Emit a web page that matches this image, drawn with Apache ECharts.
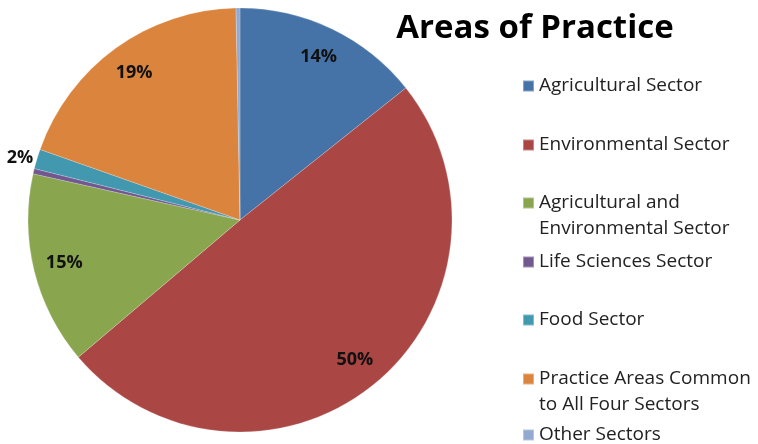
<!DOCTYPE html>
<html>
<head>
<meta charset="utf-8">
<script src="https://cdn.jsdelivr.net/npm/echarts@6/dist/echarts.min.js"></script>
<style>
html,body{margin:0;padding:0;background:#fff;}
#c{width:758px;height:444px;}
</style>
</head>
<body>
<div id="c"></div>
<script>
var categories = [
  'Agricultural Sector',
  'Environmental Sector',
  'Agricultural and\nEnvironmental Sector',
  'Life Sciences Sector',
  'Food Sector',
  'Practice Areas Common\nto All Four Sectors',
  'Other Sectors'
];
var values = [14.3, 49.5, 14.7, 0.4, 1.5, 19.3, 0.3];
var showLabel = [true, true, true, false, true, true, false];
var colors = ['#4572A7', '#AA4643', '#89A54E', '#71588F', '#4198AF', '#DB843D', '#93A9CF'];
var legendIconY = [86, 145, 203, 262, 320, 379, 435];
var twoLine = [false, false, true, false, false, true, false];

var chart = echarts.init(document.getElementById('c'), null, {renderer: 'canvas'});
var FONT = '"Open Sans", "Noto Sans", sans-serif';

var pieData = categories.map(function (n, i) {
  return {name: n, value: values[i], itemStyle: {color: colors[i]}};
});
var labelData = categories.map(function (n, i) {
  return {name: n, value: values[i], itemStyle: {color: 'rgba(0,0,0,0)'},
    label: {show: showLabel[i] && i !== 4}};
});
// Food label sits outside, drawn by the main series
pieData[4].label = {show: true, position: 'outside', overflow: 'none', distanceToLabelLine: 0};
pieData[4].labelLine = {show: false, length: 4, length2: 0};

var legends = categories.map(function (n, i) {
  var tl = twoLine[i];
  return {
    orient: 'vertical',
    left: 522,
    top: tl ? legendIconY[i] - 39 : legendIconY[i] - 13,
    data: [n],
    itemWidth: 11,
    itemHeight: 11,
    icon: 'rect',
    itemGap: 0,
    padding: 0,
    selectedMode: false,
    formatter: tl ? function (name) { return '\n' + name; } : '{name}',
    textStyle: {
      fontFamily: FONT, fontSize: 19, color: '#222',
      lineHeight: 26
    }
  };
});

var labelStyle = {
  formatter: function (p) { return Math.round(p.value + 0.0001) + '%'; },
  fontFamily: FONT, fontSize: 18, fontWeight: 'bold', color: '#111'
};

chart.setOption({
  animation: false,
  backgroundColor: '#ffffff',
  title: {
    text: 'Areas of Practice',
    left: 530, top: 7, textAlign: 'center',
    textStyle: {fontFamily: FONT, fontSize: 33, fontWeight: 'bold', color: '#000'}
  },
  legend: legends,
  series: [
    {
      type: 'pie',
      center: [240, 220],
      radius: [0, 212],
      startAngle: 90,
      clockwise: true,
      data: pieData,
      label: Object.assign({show: false}, labelStyle),
      labelLine: {show: false},
      itemStyle: {borderColor: 'rgba(255,255,255,0.35)', borderWidth: 0.6},
      emphasis: {disabled: true}
    },
    {
      type: 'pie',
      center: [240, 220],
      radius: [144, 212],
      startAngle: 90,
      clockwise: true,
      silent: true,
      legendHoverLink: false,
      data: labelData,
      label: Object.assign({show: true, position: 'inside'}, labelStyle),
      labelLine: {show: false},
      emphasis: {disabled: true}
    }
  ]
});
</script>
</body>
</html>
